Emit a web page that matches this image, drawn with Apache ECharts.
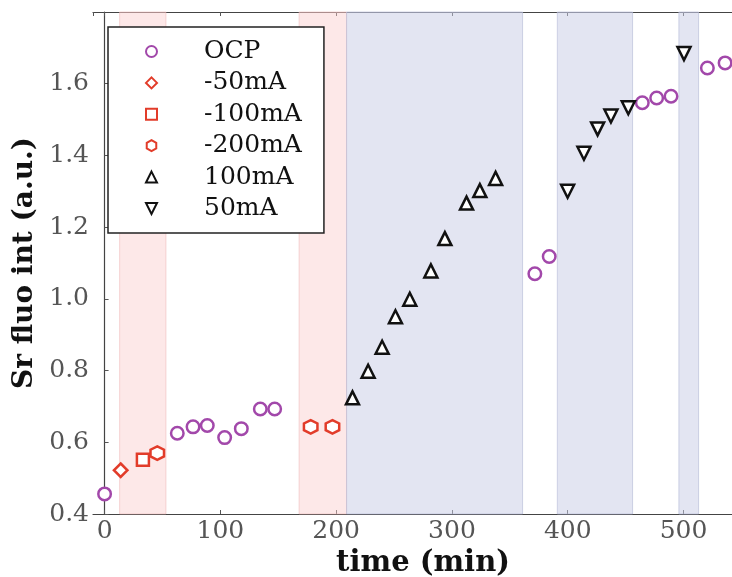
<!DOCTYPE html>
<html>
<head>
<meta charset="utf-8">
<script src="https://cdn.jsdelivr.net/npm/echarts@6/dist/echarts.min.js"></script>
<style>
html,body{margin:0;padding:0;background:#fff;}
#chart{width:732px;height:577px;}
</style>
</head>
<body>
<div id="chart"></div>
<script>
// ---- data ----
const ocp = [[0,0.456],[62.8,0.625],[76.4,0.643],[88.7,0.647],[103.7,0.613],[118.1,0.638],[134.5,0.693],[146.9,0.693],
             [371.6,1.070],[384,1.118],[464.4,1.547],[476.8,1.560],[489.2,1.565],[520.6,1.644],[535.9,1.658]];
const neg50 = [[13.9,0.522]];
const neg100 = [[33.1,0.551]];
const neg200 = [[45.5,0.570],[178,0.643],[196.8,0.643]];
const pos100 = [[214.1,0.724],[227.6,0.798],[239.7,0.865],[251.2,0.950],[263.6,0.999],[281.8,1.078],
                [293.9,1.168],[312.6,1.267],[324.1,1.302],[337.7,1.336]];
const pos50 = [[399.9,1.300],[414,1.406],[425.8,1.474],[437.3,1.510],[452.3,1.533],[500.4,1.684]];
const pinkSpans = [[13,53],[168,209]];
const blueSpans = [[209,361],[391,456],[496,513]];
const legendNames = ['OCP','-50mA','-100mA','-200mA','100mA','50mA'];
const xName = 'time (min)';
const yName = 'Sr fluo int (a.u.)';

const PURPLE = '#a248aa', RED = '#e23c2a', BLACK = '#111';
const FONT = 'DejaVu Serif';
const hexPath = 'path://M0,-1 L0.866,-0.5 L0.866,0.5 L0,1 L-0.866,0.5 L-0.866,-0.5 Z';
const downTri = 'path://M-1,-1 L1,-1 L0,1 Z';

function sc(name, data, symbol, size, color) {
  return {
    name, type: 'scatter', data, symbol, symbolSize: size, z: 5,
    itemStyle: { color: '#fff', borderColor: color, borderWidth: 2.5, opacity: 1 },
    emphasis: { disabled: true }
  };
}

const markAreaData = [];
pinkSpans.forEach(s => markAreaData.push([{ xAxis: s[0], itemStyle: { color: 'rgba(250,205,205,0.45)', borderColor: 'rgba(240,180,180,0.5)', borderWidth: 1 } }, { xAxis: s[1] }]));
blueSpans.forEach(s => markAreaData.push([{ xAxis: s[0], itemStyle: { color: 'rgba(200,203,230,0.5)', borderColor: 'rgba(180,185,215,0.6)', borderWidth: 1 } }, { xAxis: s[1] }]));

const chart = echarts.init(document.getElementById('chart'), null, { renderer: 'canvas' });
const axisCommon = {
  axisLine: { show: true, lineStyle: { color: '#444', width: 1.2 } },
  axisTick: { show: true, inside: true, length: 4, lineStyle: { color: '#555' } },
  splitLine: { show: false }
};
chart.setOption({
  animation: false,
  backgroundColor: '#fff',
  grid: { left: 93, top: 12, width: 660, height: 502, containLabel: false, outerBoundsMode: 'none' },
  legend: {
    data: legendNames,
    orient: 'vertical',
    left: 108, top: 27,
    padding: [12, 22, 12, 37],
    itemWidth: 11, itemHeight: 11,
    itemGap: 6.4,
    borderColor: '#222', borderWidth: 1.5,
    backgroundColor: '#fff',
    itemStyle: { borderWidth: 2 },
    textStyle: { fontFamily: FONT, fontSize: 25, color: '#111', lineHeight: 25, padding: [0, 0, 0, 42] },
    selectedMode: false
  },
  xAxis: [
    Object.assign({
      type: 'value', min: -10, max: 560, minInterval: 100, maxInterval: 100,
      position: 'bottom',
      name: xName, nameLocation: 'middle', nameGap: 30,
      nameTextStyle: { fontFamily: FONT, fontSize: 29, fontWeight: 'bold', color: '#111' },
      axisLabel: { fontFamily: FONT, fontSize: 25, color: '#555', margin: 5, showMinLabel: false, showMaxLabel: false }
    }, axisCommon),
    Object.assign({
      type: 'value', min: -10, max: 560, minInterval: 100, maxInterval: 100,
      position: 'top', axisLabel: { show: false }
    }, axisCommon)
  ],
  yAxis: Object.assign({
    type: 'value', min: 0.4, max: 1.8, interval: 0.2,
    name: yName, nameLocation: 'middle', nameGap: 50,
    nameTextStyle: { fontFamily: FONT, fontSize: 28, fontWeight: 'bold', color: '#111' },
    axisLabel: { fontFamily: FONT, fontSize: 25, color: '#555', margin: 4, showMaxLabel: false,
      formatter: v => v.toFixed(1) }
  }, axisCommon),
  series: [
    { type: 'line', data: [], z: 1, silent: true, markArea: { silent: true, data: markAreaData } },
    sc('OCP', ocp, 'circle', 12.5, PURPLE),
    sc('-50mA', neg50, 'diamond', 13.5, RED),
    sc('-100mA', neg100, 'rect', 12, RED),
    sc('-200mA', neg200, hexPath, 13.5, RED),
    sc('100mA', pos100, 'triangle', 13, BLACK),
    sc('50mA', pos50, downTri, 13, BLACK)
  ]
});
</script>
</body>
</html>
